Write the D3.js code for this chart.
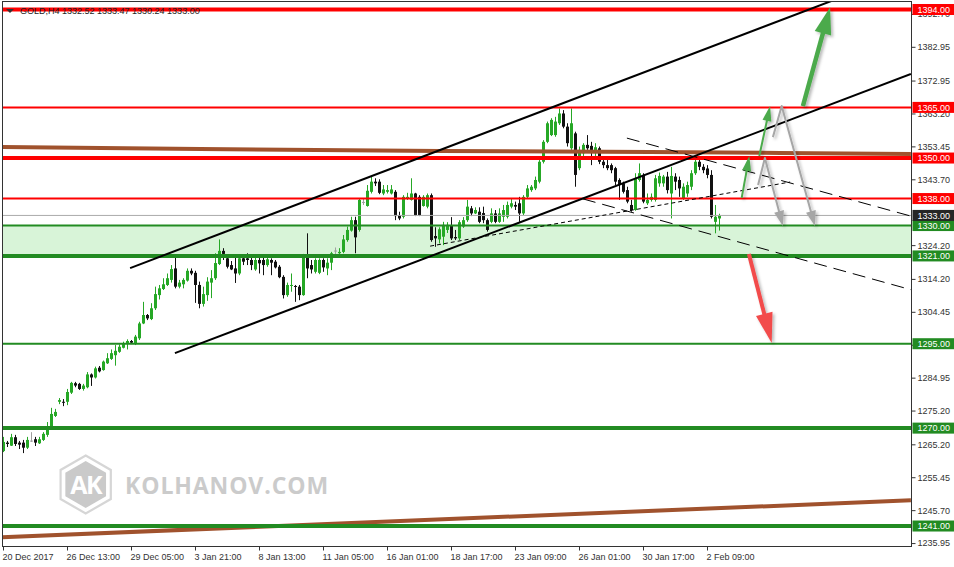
<!DOCTYPE html>
<html><head><meta charset="utf-8">
<script src="https://cdn.jsdelivr.net/npm/d3@7"></script>
<style>body{margin:0;background:#fff}svg{display:block}</style>
</head><body><svg id="c" width="954" height="567"></svg>
<script>
// ---------- DATA ----------
const symbolTitle = "GOLD,H4  1332.52 1333.47 1330.24 1333.00";
const openP = [1263.2,1265.7,1264.8,1267.3,1265.7,1265.7,1264.2,1266.3,1266.7,1265.5,1266.5,1268.0,1270.3,1273.6,1277.8,1277.8,1277.8,1280.5,1283.3,1283.1,
1281.6,1282.1,1285.9,1285.0,1287.9,1287.2,1289.2,1290.5,1291.6,1292.6,1293.8,1295.1,1295.8,1294.9,1296.6,1301.0,1303.5,1302.3,1305.5,1309.4,
1311.2,1312.4,1313.9,1317.3,1311.9,1312.6,1313.7,1316.6,1316.0,1312.4,1306.8,1309.4,1313.1,1314.4,1318.6,1322.5,1320.3,1318.3,1317.3,1315.8,
1320.3,1320.3,1319.8,1317.0,1319.8,1319.8,1318.3,1319.8,1319.3,1317.8,1314.8,1309.4,1312.1,1312.1,1311.9,1309.4,1321.3,1318.3,1316.3,1316.0,
1319.8,1317.3,1319.0,1322.6,1321.8,1322.2,1325.7,1328.5,1331.6,1328.7,1337.0,1335.8,1340.0,1343.0,1343.0,1339.5,1340.0,1339.5,1340.0,1333.1,
1332.6,1338.1,1337.6,1339.5,1338.5,1335.8,1335.6,1339.0,1326.9,1325.9,1326.7,1328.7,1329.9,1326.6,1326.2,1329.7,1331.6,1335.1,1333.6,1334.1,
1333.7,1331.6,1331.1,1333.6,1331.1,1332.6,1332.6,1335.6,1336.1,1336.6,1333.6,1338.5,1340.5,1341.0,1343.0,1348.9,1354.8,1356.8,1356.8,1360.3,
1363.2,1359.3,1352.9,1357.3,1347.0,1351.4,1353.9,1353.6,1351.9,1352.9,1348.9,1347.9,1347.9,1347.0,1343.5,1342.5,1340.5,1336.1,1334.6,1343.5,
1345.0,1336.6,1337.6,1337.6,1342.5,1342.5,1344.5,1339.5,1344.5,1343.5,1338.1,1339.5,1341.5,1345.5,1348.9,1347.4,1346.9,1345.0,1331.1,1332.1];
const highP = [1267.4,1266.2,1268.3,1268.0,1266.2,1266.5,1267.4,1268.8,1267.4,1267.4,1268.8,1271.8,1276.0,1275.7,1278.9,1278.6,1281.6,1283.7,1283.7,1283.4,
1283.1,1286.6,1286.2,1288.2,1288.4,1290.0,1292.2,1293.3,1294.6,1294.8,1295.6,1296.3,1296.1,1297.6,1301.5,1307.4,1303.8,1307.0,1311.9,1312.4,
1314.4,1315.8,1318.3,1321.3,1313.9,1314.4,1317.3,1317.3,1316.6,1313.4,1311.9,1314.7,1316.8,1321.8,1325.9,1323.3,1320.8,1319.5,1321.0,1320.6,
1320.8,1321.8,1320.6,1320.8,1320.6,1320.6,1320.6,1320.3,1319.8,1318.3,1315.3,1313.1,1315.8,1312.4,1312.4,1321.6,1327.7,1319.8,1320.3,1320.3,
1320.3,1320.3,1322.2,1323.5,1323.3,1327.2,1329.7,1332.6,1332.6,1338.1,1338.1,1342.0,1344.5,1344.0,1343.7,1342.0,1342.0,1342.0,1340.5,1334.1,
1339.0,1339.7,1344.0,1339.7,1339.0,1339.0,1339.5,1339.5,1329.5,1329.5,1331.1,1331.0,1332.5,1328.7,1331.6,1332.5,1337.6,1335.8,1335.4,1335.4,
1335.6,1332.1,1335.1,1334.6,1335.1,1336.1,1337.1,1338.1,1337.1,1338.5,1339.0,1342.0,1342.0,1344.5,1349.4,1355.3,1360.8,1361.8,1362.2,1364.7,
1364.2,1360.3,1364.7,1357.8,1353.4,1354.4,1356.8,1354.8,1354.4,1353.4,1349.9,1349.4,1348.4,1347.4,1344.0,1343.0,1341.5,1337.6,1345.5,1348.4,
1345.5,1339.5,1339.5,1345.0,1345.7,1345.0,1345.9,1347.4,1345.5,1344.5,1342.5,1343.0,1346.4,1349.9,1349.9,1348.2,1347.9,1346.4,1336.1,1333.5];
const lowP = [1262.9,1264.4,1264.7,1264.7,1263.8,1262.6,1263.8,1265.9,1264.7,1265.3,1266.2,1267.4,1270.0,1273.3,1277.1,1276.5,1276.8,1280.1,1282.1,1281.3,
1281.1,1281.8,1282.5,1284.7,1286.5,1287.0,1289.0,1290.2,1288.5,1292.3,1293.6,1293.3,1294.9,1294.6,1296.1,1300.8,1302.0,1302.0,1305.0,1308.1,
1310.9,1312.1,1313.1,1311.4,1311.4,1311.4,1313.4,1315.3,1307.1,1305.5,1306.0,1307.7,1308.5,1313.9,1318.3,1319.8,1317.3,1316.8,1313.0,1315.3,
1318.3,1318.3,1316.8,1316.6,1315.8,1315.3,1317.8,1315.3,1317.3,1314.4,1308.4,1308.9,1310.4,1307.4,1307.9,1309.2,1314.4,1315.8,1315.8,1315.6,
1316.3,1315.3,1316.8,1321.3,1321.6,1321.8,1325.2,1328.2,1321.8,1328.2,1336.1,1335.6,1339.5,1341.7,1339.3,1339.0,1339.5,1339.2,1331.6,1331.6,
1332.1,1337.6,1337.4,1332.8,1332.8,1335.6,1335.1,1325.2,1323.7,1324.7,1324.2,1327.8,1325.7,1325.7,1325.7,1329.3,1331.1,1332.8,1333.4,1330.7,
1330.7,1328.2,1330.7,1330.7,1330.8,1331.1,1332.1,1335.1,1334.6,1331.1,1333.1,1338.1,1340.0,1340.5,1342.5,1348.4,1354.4,1356.5,1356.3,1359.8,
1358.8,1353.4,1352.4,1341.5,1346.4,1350.4,1352.4,1347.9,1350.4,1348.2,1347.0,1346.4,1345.5,1342.0,1337.6,1339.5,1336.6,1334.1,1334.4,1343.0,
1336.6,1336.1,1337.1,1337.1,1341.5,1341.5,1339.5,1332.1,1340.5,1338.5,1337.6,1338.5,1340.5,1345.0,1346.4,1345.5,1344.0,1332.1,1327.7,1328.5];
const closeP = [1265.9,1265.3,1267.3,1265.3,1265.1,1264.2,1266.5,1266.3,1265.7,1266.7,1268.3,1269.6,1274.2,1274.8,1278.3,1277.5,1280.7,1283.4,1282.6,1281.6,
1282.6,1285.9,1285.0,1287.7,1286.8,1289.7,1290.7,1292.2,1292.9,1294.1,1294.9,1295.8,1295.3,1297.1,1301.0,1303.5,1302.5,1305.5,1309.7,1311.4,
1312.6,1314.4,1317.1,1311.9,1313.1,1313.9,1316.6,1315.8,1312.4,1306.8,1309.7,1313.4,1314.4,1318.9,1322.5,1321.6,1317.8,1317.0,1315.8,1320.3,
1319.3,1319.8,1318.3,1319.8,1318.8,1318.3,1320.0,1319.0,1317.6,1314.7,1309.4,1312.4,1312.4,1311.9,1309.4,1321.3,1317.3,1317.0,1319.8,1319.8,
1317.6,1319.0,1321.8,1322.6,1322.2,1325.9,1328.7,1331.6,1326.5,1337.6,1337.0,1340.3,1343.0,1342.5,1339.7,1340.7,1340.5,1340.7,1332.8,1332.1,
1338.5,1338.5,1339.5,1333.1,1333.1,1338.5,1339.0,1325.7,1326.2,1328.9,1330.2,1330.2,1326.2,1326.2,1331.0,1331.6,1335.6,1333.6,1334.6,1331.1,
1331.6,1328.7,1333.6,1331.1,1333.6,1334.6,1336.1,1336.6,1335.6,1333.6,1338.5,1341.0,1341.5,1343.5,1348.9,1354.8,1360.3,1361.3,1360.8,1363.2,
1359.3,1354.4,1360.3,1345.0,1352.4,1353.9,1352.9,1352.4,1353.2,1348.9,1347.9,1347.0,1346.4,1343.0,1342.0,1340.0,1337.1,1334.6,1344.0,1345.5,
1337.1,1337.6,1338.5,1344.0,1344.7,1344.5,1340.5,1344.7,1343.0,1341.0,1341.5,1342.0,1345.5,1348.9,1347.4,1346.4,1345.0,1332.6,1332.6,1333.0];

const timeTickIdx = [0,16,32,48,64,80,96,112,128,144,160,176];
const timeLabels = ["20 Dec 2017","26 Dec 13:00","29 Dec 05:00","3 Jan 21:00","8 Jan 13:00","11 Jan 05:00",
  "16 Jan 01:00","18 Jan 17:00","23 Jan 09:00","26 Jan 01:00","30 Jan 17:00","2 Feb 09:00"];
const priceTicks = [1392.70,1382.95,1372.95,1363.20,1353.45,1343.70,1324.20,1314.20,1304.45,1294.70,1284.95,1275.20,1265.20,1255.45,1245.70,1235.95];

const resistanceLevels = [1394, 1365, 1350, 1338];
const supportLevels = [1330, 1321, 1295, 1270, 1241];
const strongLevels = [1394, 1350, 1321, 1270, 1241];
const supportZone = [1321, 1330];
const lastPrice = 1333.00;

const maUpperIdx = [-0.3, 49.2, 109.2, 161.7, 194.2, 226.9];
const maUpperVal = [1353.3, 1352.7, 1352.1, 1351.8, 1351.5, 1351.2];
const maLowerIdx = [-0.3, 226.9];
const maLowerVal = [1237.7, 1248.6];

const channelUpper = [[31.7, 1317.4], [209.2, 1397.5]];
const channelLower = [[42.9, 1292.2], [226.9, 1374.9]];
const dashUpper = [[155.9, 1355.9], [226.9, 1332.8]];
const dashLower = [[144.9, 1337.9], [226.9, 1311.0]];
const dotTrend = [[106.7, 1323.9], [196.7, 1342.9]];

const arrowBigUp = [[199.9, 1365.4], [206.7, 1394.7]];
const arrowUp1 = [[184.6, 1338.2], [186.5, 1350.6]];
const arrowUp2 = [[189.0, 1350.6], [191.7, 1365.4]];
const arrowGray1 = [[188.7, 1342.0], [190.4, 1350.0], [194.9, 1329.9]];
const arrowGray2 = [[192.4, 1356.2], [194.6, 1365.4], [202.9, 1329.9]];
const arrowDown = [[186.4, 1321.6], [192.1, 1295.2]];

// ---------- CHART ----------
const svg = d3.select("#c");
const L = 2, R = 911, T = 2, B = 546;
const x = d3.scaleLinear().domain([-0.325, 226.925]).range([L, R]);
const y = d3.scaleLinear().domain([1235.08, 1396.22]).range([B, T]);
const FONT = "'Liberation Sans', Arial, sans-serif";

const defs = svg.append("defs");
defs.append("clipPath").attr("id", "plot").append("rect")
  .attr("x", L).attr("y", T).attr("width", R - L).attr("height", B - T);
const sh = defs.append("filter").attr("id", "shadow").attr("x", "-50%").attr("y", "-50%").attr("width", "200%").attr("height", "200%");
sh.append("feDropShadow").attr("dx", 2).attr("dy", 2).attr("stdDeviation", 1.6)
  .attr("flood-color", "#000").attr("flood-opacity", 0.28);

const plot = svg.append("g").attr("clip-path", "url(#plot)");

// watermark logo
(function () {
  const g = plot.append("g");
  const cx = 85.7, cy = 484.5;
  const hex = r => d3.range(6).map(k => {
    const a = Math.PI / 180 * (60 * k - 90);
    return [cx + r * Math.cos(a), cy + r * Math.sin(a)];
  });
  g.append("polygon").attr("points", hex(29).join(" "))
    .attr("fill", "none").attr("stroke", "#d6d6d6").attr("stroke-width", 2.2);
  g.append("polygon").attr("points", hex(23.5).join(" ")).attr("fill", "#cacaca");
  g.append("text").attr("x", cx).attr("y", cy + 9).attr("text-anchor", "middle")
    .attr("font-family", "'Open Sans', sans-serif").attr("font-weight", 700)
    .attr("font-size", 25).attr("letter-spacing", -1.5).attr("fill", "#fff").text("AK");
  g.append("text").attr("x", 125).attr("y", 493.5)
    .attr("font-family", "'Open Sans', sans-serif").attr("font-weight", 700)
    .attr("font-size", 23).attr("letter-spacing", 0.9).attr("fill", "#cbcbcb").text("KOLHANOV.COM");
})();

// support zone
plot.append("rect").attr("x", L).attr("width", R - L)
  .attr("y", y(supportZone[1])).attr("height", y(supportZone[0]) - y(supportZone[1]))
  .attr("fill", "#d8f4d8");

// title
svg.append("path").attr("d", "M6,9 L14,9 L10,13 Z").attr("fill", "#333");
svg.append("text").attr("x", 20).attr("y", 14).attr("font-family", FONT).attr("font-size", 9)
  .attr("fill", "#222").text(symbolTitle);

// candles
const candles = openP.map((o, i) => ({ i, o, h: highP[i], l: lowP[i], c: closeP[i] }));
const colorOf = d => d.c > d.o ? "#26a826" : (d.c < d.o ? "#111" : "#a0a0a0");
const cg = plot.append("g");
cg.selectAll("line").data(candles).join("line")
  .attr("x1", d => Math.round(x(d.i)) + 0.5).attr("x2", d => Math.round(x(d.i)) + 0.5)
  .attr("y1", d => y(d.h)).attr("y2", d => y(d.l))
  .attr("stroke", colorOf).attr("stroke-width", 1);
cg.selectAll("rect").data(candles).join("rect")
  .attr("x", d => Math.round(x(d.i)) - 1).attr("width", 3)
  .attr("y", d => y(Math.max(d.o, d.c)))
  .attr("height", d => Math.max(1, Math.abs(y(d.o) - y(d.c))))
  .attr("fill", colorOf);

// moving averages (brown)
const line = d3.line().x(d => x(d[0])).y(d => y(d[1]));
plot.append("path").attr("d", line(maUpperIdx.map((v, k) => [v, maUpperVal[k]])))
  .attr("fill", "none").attr("stroke", "#a0522d").attr("stroke-width", 4);
plot.append("path").attr("d", line(maLowerIdx.map((v, k) => [v, maLowerVal[k]])))
  .attr("fill", "none").attr("stroke", "#a0522d").attr("stroke-width", 4);

// horizontal levels
const levelColor = v => resistanceLevels.includes(v) ? "#ff0000" : "#228b22";
const allLevels = resistanceLevels.concat(supportLevels);
plot.selectAll("line.lvl").data(allLevels).join("line").attr("class", "lvl")
  .attr("x1", L).attr("x2", R).attr("y1", d => y(d)).attr("y2", d => y(d))
  .attr("stroke", levelColor).attr("stroke-width", d => strongLevels.includes(d) ? 4 : 2);
plot.append("line").attr("x1", L).attr("x2", R).attr("y1", y(lastPrice)).attr("y2", y(lastPrice))
  .attr("stroke", "#aaaaaa").attr("stroke-width", 1);

// trend lines
[channelUpper, channelLower].forEach(pts => plot.append("path").attr("d", line(pts))
  .attr("fill", "none").attr("stroke", "#000").attr("stroke-width", 2));
[dashUpper, dashLower].forEach(pts => plot.append("path").attr("d", line(pts))
  .attr("fill", "none").attr("stroke", "#000").attr("stroke-width", 1).attr("stroke-dasharray", "13,7"));
plot.append("path").attr("d", line(dotTrend))
  .attr("fill", "none").attr("stroke", "#000").attr("stroke-width", 1).attr("stroke-dasharray", "4,3");

// arrows
function arrow(pts, color, sw, headL, headW) {
  const p = pts.map(d => [x(d[0]), y(d[1])]);
  const tip = p[p.length - 1], prev = p[p.length - 2];
  const dx = tip[0] - prev[0], dy = tip[1] - prev[1], len = Math.hypot(dx, dy);
  const ux = dx / len, uy = dy / len, px = -uy, py = ux;
  const base = [tip[0] - ux * headL, tip[1] - uy * headL];
  const shaft = p.slice(0, -1).concat([[tip[0] - ux * headL * 0.7, tip[1] - uy * headL * 0.7]]);
  const g = svg.append("g").attr("filter", "url(#shadow)");
  g.append("path").attr("d", d3.line()(shaft)).attr("fill", "none").attr("stroke", color)
    .attr("stroke-width", sw).attr("stroke-linejoin", "round");
  g.append("polygon").attr("points", [tip, [base[0] + px * headW, base[1] + py * headW],
    [base[0] - px * headW, base[1] - py * headW]].join(" ")).attr("fill", color);
}
arrow(arrowGray1, "#a6a6a6", 2, 15, 5);
arrow(arrowGray2, "#a6a6a6", 2, 15, 5);
arrow(arrowUp1, "#4caa4c", 2, 15, 4.5);
arrow(arrowUp2, "#4caa4c", 2, 15, 4.5);
arrow(arrowBigUp, "#4caa4c", 4.5, 27, 8.5);
arrow(arrowDown, "#f24c4c", 4, 30, 8.5);

// frame
svg.append("rect").attr("x", L + 0.5).attr("y", T - 0.5).attr("width", R - L).attr("height", B - T + 1)
  .attr("fill", "none").attr("stroke", "#333").attr("stroke-width", 1);

// axes
const yAxis = svg.append("g").attr("transform", `translate(${R + 0.5},0)`)
  .call(d3.axisRight(y).tickValues(priceTicks).tickSize(4).tickPadding(2).tickFormat(d3.format(".2f")));
const xAxis = svg.append("g").attr("transform", `translate(0,${B + 0.5})`)
  .call(d3.axisBottom(x).tickValues(timeTickIdx).tickSize(4).tickPadding(3).tickFormat((d, k) => timeLabels[k]));
[yAxis, xAxis].forEach(a => {
  a.select(".domain").remove();
  a.selectAll("text").attr("font-family", FONT).attr("font-size", 9).attr("fill", "#333");
  a.selectAll("line").attr("stroke", "#333");
});
xAxis.selectAll("text").attr("text-anchor", "start").attr("dx", -1);
xAxis.selectAll(".tick").attr("transform", d => `translate(${Math.round(x(d)) + 0.5},0)`);

// price tags
const tags = allLevels.map(v => ({ v, col: levelColor(v) })).concat([{ v: lastPrice, col: "#262626" }]);
const tg = svg.append("g");
tg.selectAll("rect").data(tags).join("rect")
  .attr("x", R + 1.5).attr("width", 954 - R).attr("y", d => y(d.v) - 5.5).attr("height", 11).attr("fill", d => d.col);
tg.selectAll("text").data(tags).join("text")
  .attr("x", R + 6.5).attr("y", d => y(d.v) + 3.3).attr("font-family", FONT).attr("font-size", 9)
  .attr("fill", "#fff").text(d => d.v.toFixed(2));
</script>
</body></html>
